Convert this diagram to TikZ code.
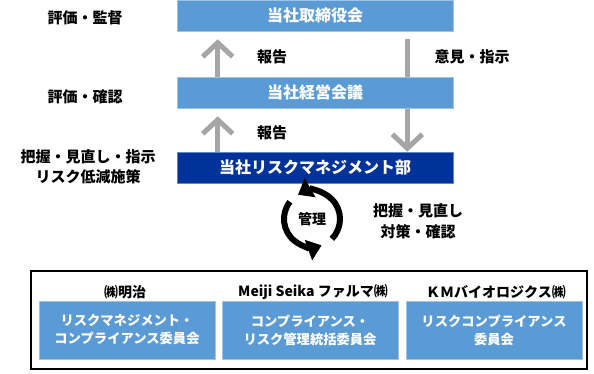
\documentclass[tikz,border=0pt]{standalone}
\usepackage{fontspec}
\setmainfont{Noto Sans CJK JP}
\usepackage{tikz}
\usetikzlibrary{positioning,arrows.meta,calc,backgrounds}
\newcommand{\figlabel}{\bfseries\fontsize{15}{20}\selectfont}
\newcommand{\figbox}{\bfseries\fontsize{16}{20}\selectfont}
\newcommand{\figunit}{\bfseries\fontsize{13.3}{18}\selectfont}
\newcommand{\figfirm}{\bfseries\fontsize{14}{18}\selectfont}
\definecolor{rmInk}{RGB}{0,0,0}
\definecolor{rmBlue}{RGB}{91,155,213}
\definecolor{rmNavy}{RGB}{0,51,153}
\definecolor{rmGray}{RGB}{166,166,166}
\tikzset{
  rmBox/.style={fill=rmBlue, draw=rmBlue!60!white, line width=.6pt,
    text=white, font=\figbox, align=center, inner sep=0pt,
    minimum width=276pt, minimum height=31pt},
  rmBoxDark/.style={rmBox, fill=rmNavy, draw=rmNavy!60!white},
  rmUnit/.style={rmBox, font=\figunit, minimum width=176pt, minimum height=58pt},
  rmLabel/.style={font=\figlabel, text=rmInk, align=center, inner sep=0pt},
  rmFirm/.style={rmLabel, font=\figfirm},
  rmFlow/.style={-{Straight Barb[length=14pt,width=30pt]}, line width=5pt,
    draw=rmGray},
  rmCycle/.style={-{Triangle[length=14pt,width=21pt]}, line width=6pt,
    draw=rmInk},
  rmFrame/.style={draw=rmInk, line width=1.6pt, inner sep=0pt}
}

\begin{document}
\begin{tikzpicture}[x=1pt,y=-1pt]
\useasboundingbox (0,0) rectangle (594,373);
% reporting chain
\node[rmBox] (board) at (315,15.5) {当社取締役会};
\node[rmBox] (council) at (315,92.5) {当社経営会議};
\node[rmBoxDark] (riskdept) at (315,167.5) {当社リスクマネジメント部};
\node[rmLabel] (boardnote) at (85,18) {評価・監督};
\node[rmLabel] (councilnote) at (85,97) {評価・確認};
\node[rmLabel] (deptnote) at (88,167) {把握・見直し・指示\\リスク低減施策};
\node[rmLabel] (reportup) at (272,57) {報告};
\node[rmLabel] (reportlow) at (272,133) {報告};
\node[rmLabel] (advice) at (472,57) {意見・指示};
\begin{scope}[on background layer]
\draw[rmFlow, shorten >=8pt] ([xshift=41pt]council.north west) -- ([xshift=41pt]board.south west);
\draw[rmFlow, shorten >=8pt] ([xshift=41pt]riskdept.north west) -- ([xshift=41pt]council.south west);
\draw[rmFlow, shorten <=8pt] ([xshift=-46pt]board.south east) -- ([xshift=-46pt]riskdept.north east);
\end{scope}
% management cycle
\node[rmFirm] (cycle) at (312,219) {管理};
\draw[rmCycle] (cycle.center) ++(45:28) arc[start angle=45,end angle=-120,radius=28];
\draw[rmCycle] (cycle.center) ++(-142:28) arc[start angle=-142,end angle=-290,radius=28];
\node[rmLabel, font=\bfseries\fontsize{15}{21}\selectfont] (cyclenote) at (418,221.5) {把握・見直し\\対策・確認};
% group companies
\node[rmFrame, minimum width=556pt, minimum height=98pt] (group) at (309,320) {};
\node[rmFirm] (meiji) at (125,292) {㈱明治};
\node[rmFirm] (pharma) at (313,292) {Meiji Seika ファルマ㈱};
\node[rmFirm] (kmb) at (496,292) {ＫＭバイオロジクス㈱};
\node[rmUnit] (meijiunit) at (127,330) {リスクマネジメント・\\コンプライアンス委員会};
\node[rmUnit] (pharmaunit) at (310,330) {コンプライアンス・\\リスク管理統括委員会};
\node[rmUnit] (kmbunit) at (494,330) {リスクコンプライアンス\\委員会};
\end{tikzpicture}
\end{document}
